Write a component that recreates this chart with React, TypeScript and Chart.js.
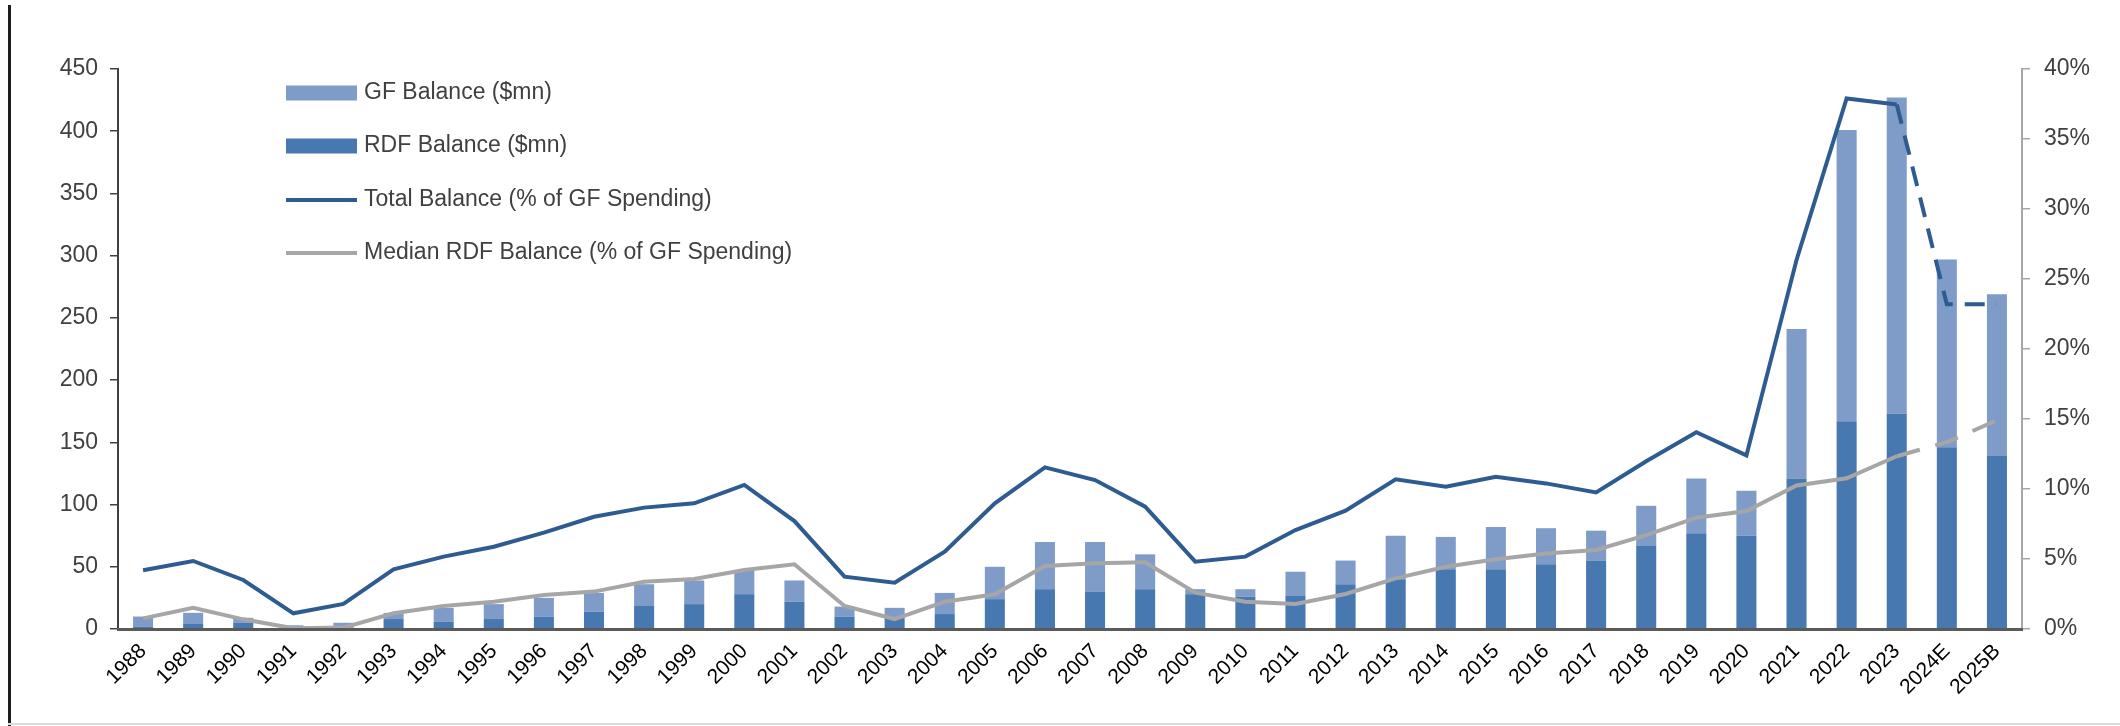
import React, { useEffect, useRef } from "react";
import { Chart, registerables } from "chart.js";

Chart.register(...registerables);

const categories = [
  "1988", "1989", "1990", "1991", "1992", "1993", "1994", "1995", "1996", "1997",
  "1998", "1999", "2000", "2001", "2002", "2003", "2004", "2005", "2006", "2007",
  "2008", "2009", "2010", "2011", "2012", "2013", "2014", "2015", "2016", "2017",
  "2018", "2019", "2020", "2021", "2022", "2023", "2024E", "2025B",
];

// RDF Balance ($mn) - dark bottom segment
const rdfBalance = [
  2, 4, 5, 0.5, 1, 8, 6, 8, 10, 14,
  19, 20, 28, 22, 10, 9, 12, 24, 32, 30,
  32, 28, 26, 27, 36, 40, 48, 48, 52, 55,
  67, 77, 75, 121, 167, 173, 146, 139,
];

// GF Balance ($mn) - light top segment
const gfBalance = [
  8, 9, 4, 2.5, 4, 5, 11, 12, 15, 15,
  17, 19, 19, 17, 8, 8, 17, 26, 38, 40,
  28, 4, 6, 19, 19, 35, 26, 34, 29, 24,
  32, 44, 36, 120, 234, 254, 151, 130,
];

// Total Balance (% of GF Spending)
const totalBalancePct = [
  4.2, 4.86, 3.5, 1.12, 1.79, 4.26, 5.17, 5.88, 6.88, 8.02,
  8.67, 8.98, 10.29, 7.71, 3.74, 3.31, 5.52, 8.98, 11.55, 10.64,
  8.74, 4.81, 5.17, 7.07, 8.45, 10.69, 10.17, 10.88, 10.4, 9.76,
  11.98, 14.05, 12.4, 26.36, 37.9, 37.47, 23.19, 23.19,
];

// Median RDF Balance (% of GF Spending)
const medianRdfPct = [
  0.76, 1.52, 0.69, 0.05, 0.1, 1.12, 1.64, 1.95, 2.43, 2.67,
  3.38, 3.57, 4.21, 4.62, 1.64, 0.71, 1.95, 2.48, 4.5, 4.69,
  4.76, 2.6, 1.95, 1.79, 2.5, 3.62, 4.45, 4.98, 5.4, 5.64,
  6.7, 7.95, 8.43, 10.25, 10.77, 12.34, 13.35, 14.9,
];

const legendOrder = [
  "GF Balance ($mn)",
  "RDF Balance ($mn)",
  "Total Balance (% of GF Spending)",
  "Median RDF Balance (% of GF Spending)",
];

const firstProjectedIndex = 35; // dashed from 2023 onwards

const W = 2120;
const H = 726;
const FONT = "'Liberation Sans', Arial, sans-serif";
const GF_COLOR = "#7f9cc9";
const RDF_COLOR = "#4878b0";
const TOTAL_COLOR = "#2e5b90";
const MEDIAN_COLOR = "#a6a6a6";

export default function App() {
  const ref = useRef<HTMLCanvasElement>(null);

  useEffect(() => {
    document.body.style.margin = "0";
    if (!ref.current) return;

    const legendPlugin = {
      id: "customLegend",
      afterDraw(chart: any) {
        const { ctx, chartArea } = chart;
        const boxX = chartArea.left + 168;
        const boxW = 71;
        const rowY = [24, 77, 131, 184];
        ctx.save();
        ctx.font = `23px ${FONT}`;
        ctx.textBaseline = "middle";
        ctx.textAlign = "left";
        legendOrder.forEach((label, i) => {
          const ds = chart.data.datasets.find((d: any) => d.label === label);
          if (!ds) return;
          const cy = chartArea.top + rowY[i];
          if (ds.type === "bar") {
            ctx.fillStyle = ds.backgroundColor;
            ctx.fillRect(boxX, cy - 7.5, boxW, 15);
          } else {
            ctx.strokeStyle = ds.borderColor;
            ctx.lineWidth = 4;
            ctx.setLineDash([]);
            ctx.beginPath();
            ctx.moveTo(boxX, cy);
            ctx.lineTo(boxX + boxW, cy);
            ctx.stroke();
          }
          ctx.fillStyle = "#404040";
          ctx.fillText(label, boxX + boxW + 7, cy);
        });
        ctx.restore();
      },
    };

    const chart = new Chart(ref.current, {
      type: "bar",
      data: {
        labels: categories,
        datasets: [
          {
            type: "bar",
            label: "RDF Balance ($mn)",
            data: rdfBalance,
            backgroundColor: RDF_COLOR,
            yAxisID: "y",
            order: 2,
            barPercentage: 0.4,
            categoryPercentage: 1,
          },
          {
            type: "bar",
            label: "GF Balance ($mn)",
            data: gfBalance,
            backgroundColor: GF_COLOR,
            yAxisID: "y",
            order: 2,
            barPercentage: 0.4,
            categoryPercentage: 1,
          },
          {
            type: "line",
            label: "Total Balance (% of GF Spending)",
            data: totalBalancePct,
            borderColor: TOTAL_COLOR,
            backgroundColor: TOTAL_COLOR,
            borderWidth: 4,
            pointRadius: 0,
            tension: 0,
            yAxisID: "y1",
            order: 0,
            segment: {
              borderDash: (c: any) => (c.p0DataIndex >= firstProjectedIndex ? [20, 12] : undefined),
            },
          },
          {
            type: "line",
            label: "Median RDF Balance (% of GF Spending)",
            data: medianRdfPct,
            borderColor: MEDIAN_COLOR,
            backgroundColor: MEDIAN_COLOR,
            borderWidth: 4,
            pointRadius: 0,
            tension: 0,
            yAxisID: "y1",
            order: 1,
            segment: {
              borderDash: (c: any) => (c.p0DataIndex >= firstProjectedIndex ? [24, 16] : undefined),
            },
          },
        ] as any,
      },
      options: {
        responsive: false,
        animation: false,
        layout: { padding: { top: 69, left: 0, right: 0, bottom: 0 } },
        plugins: {
          legend: { display: false },
          tooltip: { enabled: false },
        },
        scales: {
          x: {
            stacked: true,
            grid: { display: false, drawTicks: false },
            border: { display: true, color: "#5a5a5a", width: 3, z: 1 },
            ticks: {
              autoSkip: false,
              maxRotation: 45,
              minRotation: 45,
              color: "#000000",
              font: { family: FONT, size: 21 },
              padding: 10,
            },
            afterFit: (s: any) => {
              s.height = 97;
            },
          },
          y: {
            position: "left",
            stacked: true,
            min: 0,
            max: 450,
            ticks: {
              stepSize: 50,
              color: "#404040",
              font: { family: FONT, size: 23 },
              padding: 12,
            },
            grid: {
              drawOnChartArea: false,
              drawTicks: true,
              tickLength: 8,
              color: "#404040",
              lineWidth: 1.5,
            },
            border: { display: true, color: "#404040", width: 2 },
            afterFit: (s: any) => {
              s.width = 118;
            },
          },
          y1: {
            position: "right",
            min: 0,
            max: 40,
            ticks: {
              stepSize: 5,
              color: "#404040",
              font: { family: FONT, size: 23 },
              padding: 14,
              callback: (v: any) => `${v}%`,
            },
            grid: {
              drawOnChartArea: false,
              drawTicks: true,
              tickLength: 8,
              color: "#a6a6a6",
              lineWidth: 1.5,
            },
            border: { display: true, color: "#a6a6a6", width: 2 },
            afterFit: (s: any) => {
              s.width = 98;
            },
          },
        },
      } as any,
      plugins: [legendPlugin],
    });

    return () => chart.destroy();
  }, []);

  return (
    <div style={{ position: "fixed", left: 0, top: 0, width: W, height: H, background: "#ffffff", overflow: "hidden" }}>
      <canvas ref={ref} width={W} height={H} style={{ display: "block", width: W, height: H }} />
      <div style={{ position: "absolute", left: 8, top: 5, width: 3, height: 721, background: "#1e1e1e" }} />
      <div style={{ position: "absolute", left: 8, top: 723, width: W - 8, height: 2, background: "#dcdcdc" }} />
    </div>
  );
}
